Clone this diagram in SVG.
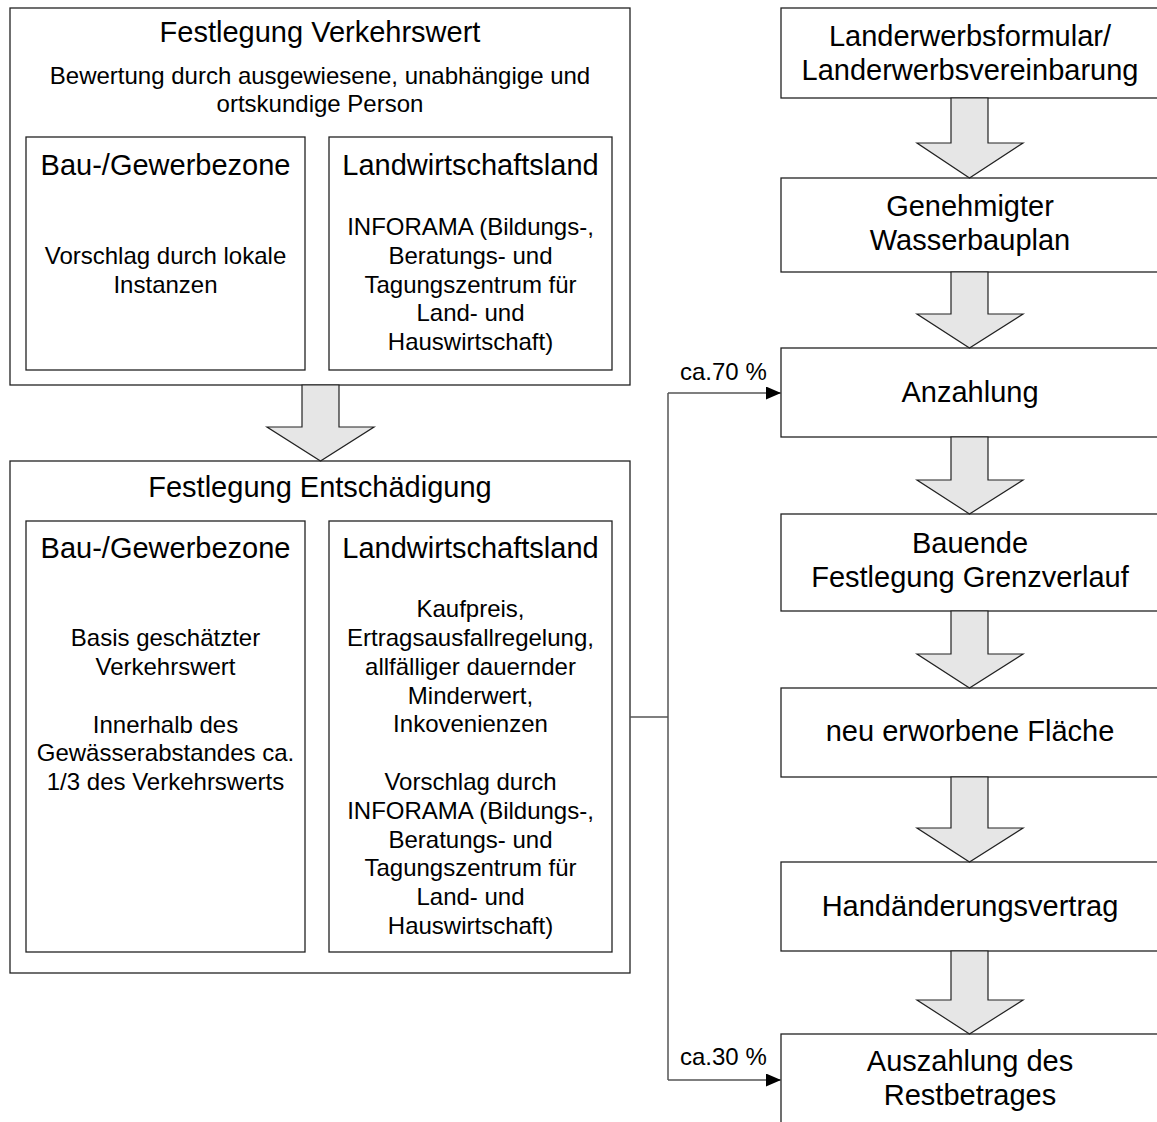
<svg xmlns="http://www.w3.org/2000/svg" width="1157" height="1122" viewBox="0 0 1157 1122">
<style>
  .box { fill: #ffffff; stroke: #222222; stroke-width: 1.3; }
  .arrow { fill: #e6e6e6; stroke: #222222; stroke-width: 1.2; stroke-linejoin: miter; }
  .conn { fill: none; stroke: #555555; stroke-width: 1.5; }
  text { font-family: "Liberation Sans", Arial, sans-serif; fill: #000000; text-anchor: middle; }
  .t { font-size: 29px; }
  .b { font-size: 24px; }
  .lbl { font-size: 24px; text-anchor: start; }
</style>
<defs>
  <marker id="ah" viewBox="0 0 15 13" refX="15" refY="6.5" markerWidth="15" markerHeight="13" markerUnits="userSpaceOnUse" orient="auto">
    <path d="M0,0 L15,6.5 L0,13 Z" fill="#000000"/>
  </marker>
</defs>
<rect width="1157" height="1122" fill="#ffffff"/>

<g id="festlegung-verkehrswert">
  <rect class="box" x="10" y="8" width="620" height="377"/>
  <text class="t" x="320" y="42">Festlegung Verkehrswert</text>
  <text class="b" x="320" y="84">Bewertung durch ausgewiesene, unabhängige und</text>
  <text class="b" x="320" y="112">ortskundige Person</text>
</g>
<g id="vw-bau">
  <rect class="box" x="26" y="137" width="279" height="233"/>
  <text class="t" x="165.5" y="175">Bau-/Gewerbezone</text>
  <text class="b" x="165.5" y="264">Vorschlag durch lokale</text>
  <text class="b" x="165.5" y="293">Instanzen</text>
</g>
<g id="vw-land">
  <rect class="box" x="329" y="137" width="283" height="233"/>
  <text class="t" x="470.5" y="175">Landwirtschaftsland</text>
  <text class="b" x="470.5" y="235">INFORAMA (Bildungs-,</text>
  <text class="b" x="470.5" y="264">Beratungs- und</text>
  <text class="b" x="470.5" y="293">Tagungszentrum für</text>
  <text class="b" x="470.5" y="321">Land- und</text>
  <text class="b" x="470.5" y="350">Hauswirtschaft)</text>
</g>

<g id="festlegung-entschaedigung">
  <rect class="box" x="10" y="461" width="620" height="512"/>
  <text class="t" x="320" y="497">Festlegung Entschädigung</text>
</g>
<g id="ent-bau">
  <rect class="box" x="26" y="521" width="279" height="431"/>
  <text class="t" x="165.5" y="558">Bau-/Gewerbezone</text>
  <text class="b" x="165.5" y="646">Basis geschätzter</text>
  <text class="b" x="165.5" y="675">Verkehrswert</text>
  <text class="b" x="165.5" y="733">Innerhalb des</text>
  <text class="b" x="165.5" y="761">Gewässerabstandes ca.</text>
  <text class="b" x="165.5" y="790">1/3 des Verkehrswerts</text>
</g>
<g id="ent-land">
  <rect class="box" x="329" y="521" width="283" height="431"/>
  <text class="t" x="470.5" y="558">Landwirtschaftsland</text>
  <text class="b" x="470.5" y="617">Kaufpreis,</text>
  <text class="b" x="470.5" y="646">Ertragsausfallregelung,</text>
  <text class="b" x="470.5" y="675">allfälliger dauernder</text>
  <text class="b" x="470.5" y="704">Minderwert,</text>
  <text class="b" x="470.5" y="732">Inkovenienzen</text>
  <text class="b" x="470.5" y="790">Vorschlag durch</text>
  <text class="b" x="470.5" y="819">INFORAMA (Bildungs-,</text>
  <text class="b" x="470.5" y="848">Beratungs- und</text>
  <text class="b" x="470.5" y="876">Tagungszentrum für</text>
  <text class="b" x="470.5" y="905">Land- und</text>
  <text class="b" x="470.5" y="934">Hauswirtschaft)</text>
</g>

<g id="landerwerbsformular">
  <rect class="box" x="781" y="8" width="380" height="90"/>
  <text class="t" x="970" y="46">Landerwerbsformular/</text>
  <text class="t" x="970" y="80">Landerwerbsvereinbarung</text>
</g>
<g id="wasserbauplan">
  <rect class="box" x="781" y="178" width="380" height="94"/>
  <text class="t" x="970" y="216">Genehmigter</text>
  <text class="t" x="970" y="250">Wasserbauplan</text>
</g>
<g id="anzahlung">
  <rect class="box" x="781" y="348" width="380" height="89"/>
  <text class="t" x="970" y="402">Anzahlung</text>
</g>
<g id="bauende">
  <rect class="box" x="781" y="514" width="380" height="97"/>
  <text class="t" x="970" y="553">Bauende</text>
  <text class="t" x="970" y="587">Festlegung Grenzverlauf</text>
</g>
<g id="neu-erworbene-flaeche">
  <rect class="box" x="781" y="688" width="380" height="89"/>
  <text class="t" x="970" y="741">neu erworbene Fläche</text>
</g>
<g id="handaenderungsvertrag">
  <rect class="box" x="781" y="862" width="380" height="89"/>
  <text class="t" x="970" y="916">Handänderungsvertrag</text>
</g>
<g id="auszahlung">
  <rect class="box" x="781" y="1034" width="380" height="100"/>
  <text class="t" x="970" y="1071">Auszahlung des</text>
  <text class="t" x="970" y="1105">Restbetrages</text>
</g>

<g id="connectors">
  <path class="arrow" d="M302,385 L339,385 L339,427 L374,427 L320.5,461 L267,427 L302,427 Z"/>
  <path class="arrow" d="M951,98 L988,98 L988,143 L1023,143 L969.5,178 L917,143 L951,143 Z"/>
  <path class="arrow" d="M951,272 L988,272 L988,314 L1023,314 L969.5,348 L917,314 L951,314 Z"/>
  <path class="arrow" d="M951,437 L988,437 L988,480 L1023,480 L969.5,514 L917,480 L951,480 Z"/>
  <path class="arrow" d="M951,611 L988,611 L988,654 L1023,654 L969.5,688 L917,654 L951,654 Z"/>
  <path class="arrow" d="M951,777 L988,777 L988,828 L1023,828 L969.5,862 L917,828 L951,828 Z"/>
  <path class="arrow" d="M951,951 L988,951 L988,1000 L1023,1000 L969.5,1034 L917,1000 L951,1000 Z"/>
  <path class="conn" d="M630,717 L668,717"/>
  <path class="conn" d="M668,393 L668,1080"/>
  <path class="conn" d="M668,393 L781,393" marker-end="url(#ah)"/>
  <path class="conn" d="M668,1080 L781,1080" marker-end="url(#ah)"/>
  <text class="lbl" x="680" y="380">ca.70 %</text>
  <text class="lbl" x="680" y="1065">ca.30 %</text>
</g>
</svg>
